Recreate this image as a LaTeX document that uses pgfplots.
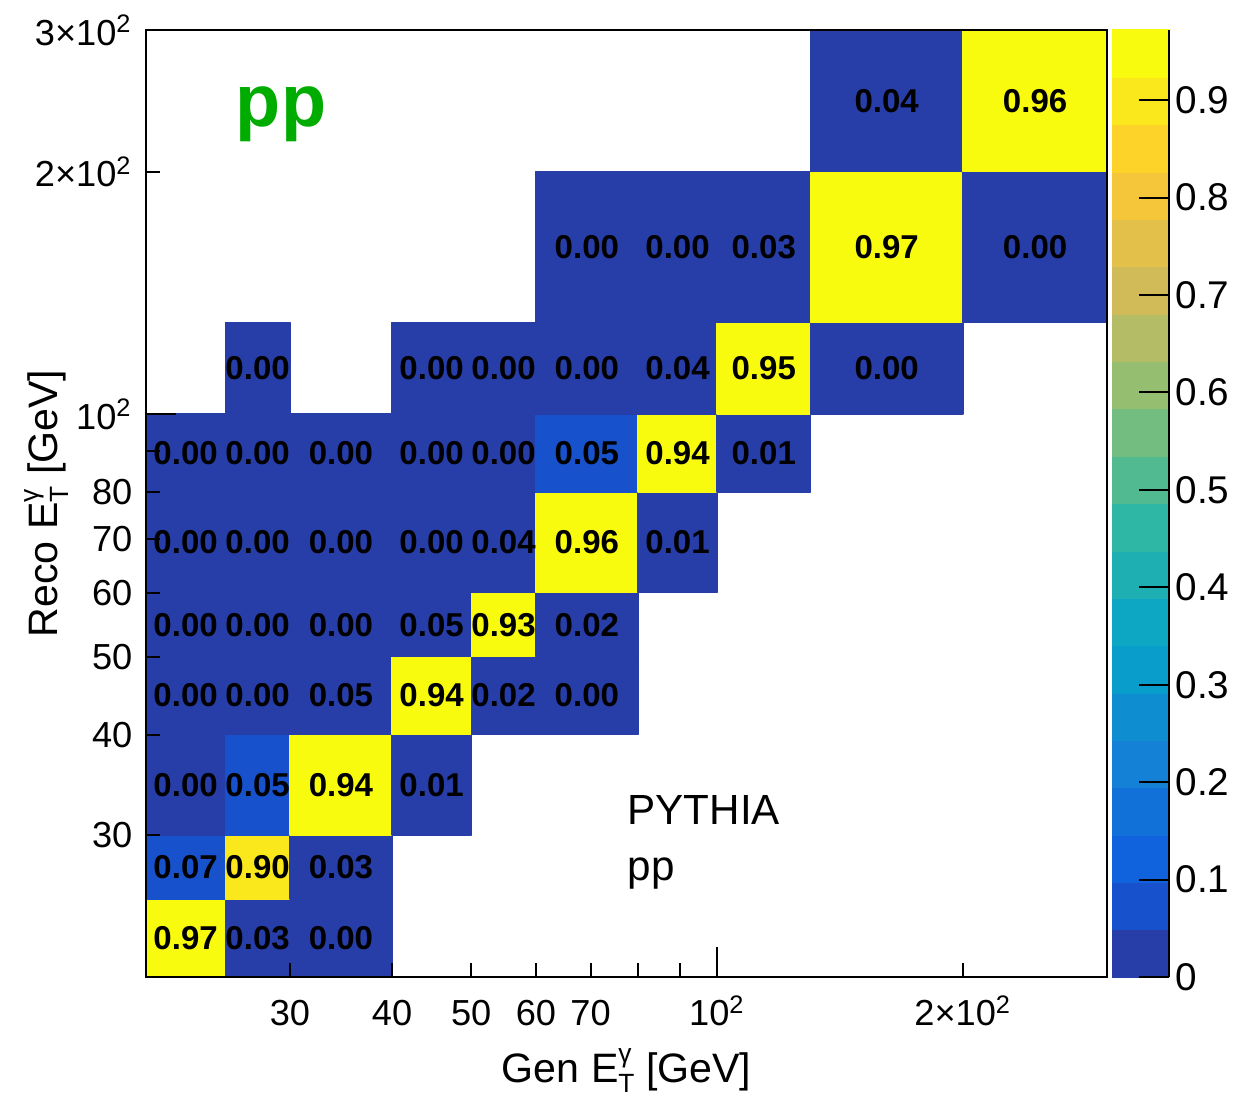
\documentclass[border=0pt]{standalone}
\usepackage{fontspec}
\setmainfont{Liberation Sans}
\usepackage{pgfplots}
\pgfplotsset{compat=1.18}
\usepackage{pgfplotstable}
\definecolor{ppgreen}{RGB}{0,172,0}
\pgfplotsset{colormap={bird20}{
rgb255=(39,61,168) rgb255=(23,81,203) rgb255=(16,99,220) rgb255=(18,113,217)
rgb255=(20,128,214) rgb255=(14,142,209) rgb255=(9,157,204) rgb255=(13,167,195)
rgb255=(30,175,179) rgb255=(46,183,164) rgb255=(82,186,145) rgb255=(116,189,128)
rgb255=(150,190,113) rgb255=(180,189,101) rgb255=(209,187,89) rgb255=(227,192,74)
rgb255=(245,198,58) rgb255=(253,211,42) rgb255=(251,232,28) rgb255=(249,251,14)}}
\newcommand{\ETg}{E\rlap{\raisebox{5.5pt}{\fontsize{7.5}{7.5}\selectfont γ}}\raisebox{-3pt}{\fontsize{7.5}{7.5}\selectfont T}}

% cells: four corners per bin, with bin content v
\pgfplotstableread{
x y v
20 20 0.97
25 20 0.97
25 25 0.97
20 25 0.97
25 20 0.03
30 20 0.03
30 25 0.03
25 25 0.03
30 20 0.00
40 20 0.00
40 25 0.00
30 25 0.00
20 25 0.07
25 25 0.07
25 30 0.07
20 30 0.07
25 25 0.90
30 25 0.90
30 30 0.90
25 30 0.90
30 25 0.03
40 25 0.03
40 30 0.03
30 30 0.03
20 30 0.00
25 30 0.00
25 40 0.00
20 40 0.00
25 30 0.05
30 30 0.05
30 40 0.05
25 40 0.05
30 30 0.94
40 30 0.94
40 40 0.94
30 40 0.94
40 30 0.01
50 30 0.01
50 40 0.01
40 40 0.01
20 40 0.00
25 40 0.00
25 50 0.00
20 50 0.00
25 40 0.00
30 40 0.00
30 50 0.00
25 50 0.00
30 40 0.046
40 40 0.046
40 50 0.046
30 50 0.046
40 40 0.94
50 40 0.94
50 50 0.94
40 50 0.94
50 40 0.02
60 40 0.02
60 50 0.02
50 50 0.02
60 40 0.00
80 40 0.00
80 50 0.00
60 50 0.00
20 50 0.00
25 50 0.00
25 60 0.00
20 60 0.00
25 50 0.00
30 50 0.00
30 60 0.00
25 60 0.00
30 50 0.00
40 50 0.00
40 60 0.00
30 60 0.00
40 50 0.046
50 50 0.046
50 60 0.046
40 60 0.046
50 50 0.93
60 50 0.93
60 60 0.93
50 60 0.93
60 50 0.02
80 50 0.02
80 60 0.02
60 60 0.02
20 60 0.00
25 60 0.00
25 80 0.00
20 80 0.00
25 60 0.00
30 60 0.00
30 80 0.00
25 80 0.00
30 60 0.00
40 60 0.00
40 80 0.00
30 80 0.00
40 60 0.00
50 60 0.00
50 80 0.00
40 80 0.00
50 60 0.04
60 60 0.04
60 80 0.04
50 80 0.04
60 60 0.96
80 60 0.96
80 80 0.96
60 80 0.96
80 60 0.01
100 60 0.01
100 80 0.01
80 80 0.01
20 80 0.00
25 80 0.00
25 100 0.00
20 100 0.00
25 80 0.00
30 80 0.00
30 100 0.00
25 100 0.00
30 80 0.00
40 80 0.00
40 100 0.00
30 100 0.00
40 80 0.00
50 80 0.00
50 100 0.00
40 100 0.00
50 80 0.00
60 80 0.00
60 100 0.00
50 100 0.00
60 80 0.05
80 80 0.05
80 100 0.05
60 100 0.05
80 80 0.94
100 80 0.94
100 100 0.94
80 100 0.94
100 80 0.01
130 80 0.01
130 100 0.01
100 100 0.01
25 100 0.00
30 100 0.00
30 130 0.00
25 130 0.00
40 100 0.00
50 100 0.00
50 130 0.00
40 130 0.00
50 100 0.00
60 100 0.00
60 130 0.00
50 130 0.00
60 100 0.00
80 100 0.00
80 130 0.00
60 130 0.00
80 100 0.04
100 100 0.04
100 130 0.04
80 130 0.04
100 100 0.95
130 100 0.95
130 130 0.95
100 130 0.95
130 100 0.00
200 100 0.00
200 130 0.00
130 130 0.00
60 130 0.00
80 130 0.00
80 200 0.00
60 200 0.00
80 130 0.00
100 130 0.00
100 200 0.00
80 200 0.00
100 130 0.03
130 130 0.03
130 200 0.03
100 200 0.03
130 130 0.97
200 130 0.97
200 200 0.97
130 200 0.97
200 130 0.00
300 130 0.00
300 200 0.00
200 200 0.00
130 200 0.04
200 200 0.04
200 300 0.04
130 300 0.04
200 200 0.96
300 200 0.96
300 300 0.96
200 300 0.96
}\cells

% labels: bin centres (log scale) and bin content
\pgfplotstableread{
x y v
22.36 22.36 0.97
27.39 22.36 0.03
34.64 22.36 0.00
22.36 27.39 0.07
27.39 27.39 0.90
34.64 27.39 0.03
22.36 34.64 0.00
27.39 34.64 0.05
34.64 34.64 0.94
44.72 34.64 0.01
22.36 44.72 0.00
27.39 44.72 0.00
34.64 44.72 0.046
44.72 44.72 0.94
54.77 44.72 0.02
69.28 44.72 0.00
22.36 54.77 0.00
27.39 54.77 0.00
34.64 54.77 0.00
44.72 54.77 0.046
54.77 54.77 0.93
69.28 54.77 0.02
22.36 69.28 0.00
27.39 69.28 0.00
34.64 69.28 0.00
44.72 69.28 0.00
54.77 69.28 0.04
69.28 69.28 0.96
89.44 69.28 0.01
22.36 89.44 0.00
27.39 89.44 0.00
34.64 89.44 0.00
44.72 89.44 0.00
54.77 89.44 0.00
69.28 89.44 0.05
89.44 89.44 0.94
114.02 89.44 0.01
27.39 114.02 0.00
44.72 114.02 0.00
54.77 114.02 0.00
69.28 114.02 0.00
89.44 114.02 0.04
114.02 114.02 0.95
161.25 114.02 0.00
69.28 161.25 0.00
89.44 161.25 0.00
114.02 161.25 0.03
161.25 161.25 0.97
244.95 161.25 0.00
161.25 244.95 0.04
244.95 244.95 0.96
}\labels

% palette bands (20 contour levels between 0 and 0.972)
\pgfplotstableread{
x y v
0 0.0000 0.0243
1 0.0000 0.0243
1 0.0486 0.0243
0 0.0486 0.0243
0 0.0486 0.0729
1 0.0486 0.0729
1 0.0972 0.0729
0 0.0972 0.0729
0 0.0972 0.1215
1 0.0972 0.1215
1 0.1458 0.1215
0 0.1458 0.1215
0 0.1458 0.1701
1 0.1458 0.1701
1 0.1944 0.1701
0 0.1944 0.1701
0 0.1944 0.2187
1 0.1944 0.2187
1 0.2430 0.2187
0 0.2430 0.2187
0 0.2430 0.2673
1 0.2430 0.2673
1 0.2916 0.2673
0 0.2916 0.2673
0 0.2916 0.3159
1 0.2916 0.3159
1 0.3402 0.3159
0 0.3402 0.3159
0 0.3402 0.3645
1 0.3402 0.3645
1 0.3888 0.3645
0 0.3888 0.3645
0 0.3888 0.4131
1 0.3888 0.4131
1 0.4374 0.4131
0 0.4374 0.4131
0 0.4374 0.4617
1 0.4374 0.4617
1 0.4860 0.4617
0 0.4860 0.4617
0 0.4860 0.5103
1 0.4860 0.5103
1 0.5346 0.5103
0 0.5346 0.5103
0 0.5346 0.5589
1 0.5346 0.5589
1 0.5832 0.5589
0 0.5832 0.5589
0 0.5832 0.6075
1 0.5832 0.6075
1 0.6318 0.6075
0 0.6318 0.6075
0 0.6318 0.6561
1 0.6318 0.6561
1 0.6804 0.6561
0 0.6804 0.6561
0 0.6804 0.7047
1 0.6804 0.7047
1 0.7290 0.7047
0 0.7290 0.7047
0 0.7290 0.7533
1 0.7290 0.7533
1 0.7776 0.7533
0 0.7776 0.7533
0 0.7776 0.8019
1 0.7776 0.8019
1 0.8262 0.8019
0 0.8262 0.8019
0 0.8262 0.8505
1 0.8262 0.8505
1 0.8748 0.8505
0 0.8748 0.8505
0 0.8748 0.8991
1 0.8748 0.8991
1 0.9234 0.8991
0 0.9234 0.8991
0 0.9234 0.9477
1 0.9234 0.9477
1 0.9720 0.9477
0 0.9720 0.9477
}\palette

\begin{document}
\begin{tikzpicture}
\path[use as bounding box] (-14.6mm,-12.0mm) rectangle (111.1mm,97.7mm);
\begin{axis}[
  at={(0,0)}, anchor=south west,
  scale only axis, width=96.1mm, height=94.7mm,
  xmode=log, ymode=log,
  xmin=20, xmax=300, ymin=20, ymax=300,
  colormap name=bird20,
  colormap access=piecewise constant,
  point meta min=0, point meta max=0.972,
  axis on top,
  axis line style={line width=0.2mm},
  tick pos=left,
  tick align=inside,
  major tick length=1.4mm,
  every tick/.style={black, line width=0.2mm},
  minor xtick={}, minor ytick={},
  xtick={30,40,50,60,70,80,90,200},
  xticklabels={30,40,50,60,70,,,2×10\textsuperscript{2}},
  extra x ticks={100}, extra x tick labels={10\textsuperscript{2}},
  extra x tick style={major tick length=3mm},
  ytick={30,40,50,60,70,80,90,200,300},
  yticklabels={30,40,50,60,70,80,,2×10\textsuperscript{2},3×10\textsuperscript{2}},
  extra y ticks={100}, extra y tick labels={10\textsuperscript{2}},
  extra y tick style={major tick length=3mm},
  xticklabel style={font=\fontsize{10.3}{10.3}\selectfont, anchor=base, inner sep=0pt, yshift=-4.9mm},
  yticklabel style={font=\fontsize{10.3}{10.3}\selectfont, anchor=east, inner sep=0pt, xshift=-1.3mm},
  xlabel={Gen \ETg{} [GeV]},
  ylabel={Reco \ETg{} [GeV]},
  xlabel style={font=\fontsize{11.7}{11.7}\selectfont, at={(axis description cs:0.5,-0.1109)}, anchor=base, inner sep=0pt},
  ylabel style={font=\fontsize{11.7}{11.7}\selectfont, at={(axis description cs:-0.0916,0.5)}, anchor=base, inner sep=0pt},
]
\addplot[patch, patch type=rectangle, shader=flat corner, point meta=\thisrow{v}] table[x=x, y=y] {\cells};
\addplot[only marks, mark=none, point meta=\thisrow{v},
  nodes near coords={\pgfmathprintnumber[fixed,fixed zerofill,precision=2,assume math mode=true]{\pgfplotspointmeta}},
  every node near coord/.append style={anchor=center, inner sep=0pt, text=black, font=\bfseries\fontsize{9.4}{9.4}\selectfont}]
  table[x=x, y=y] {\labels};
\node[anchor=base, text=ppgreen, font=\bfseries\fontsize{21}{21}\selectfont, inner sep=0pt] at (axis description cs:0.1405,0.8976) {pp};
\node[anchor=base west, font=\fontsize{12}{12}\selectfont, inner sep=0pt] at (axis description cs:0.5005,0.1605) {PYTHIA};
\node[anchor=base west, font=\fontsize{12}{12}\selectfont, inner sep=0pt] at (axis description cs:0.5005,0.1024) {pp};
\end{axis}
\begin{axis}[
  at={(96.6mm,0)}, anchor=south west,
  scale only axis, width=5.7mm, height=94.7mm,
  xmin=0, xmax=1, ymin=0, ymax=0.972,
  colormap name=bird20,
  colormap access=piecewise constant,
  point meta min=0, point meta max=0.972,
  axis on top,
  axis x line=none, axis y line*=right,
  axis line style={line width=0.2mm},
  tick align=inside,
  major tick length=3mm,
  every tick/.style={black, line width=0.2mm},
  ytick={0,0.1,0.2,0.3,0.4,0.5,0.6,0.7,0.8,0.9},
  yticklabels={0,0.1,0.2,0.3,0.4,0.5,0.6,0.7,0.8,0.9},
  minor ytick={},
  yticklabel style={font=\fontsize{11}{11}\selectfont, anchor=west, inner sep=0pt, xshift=0.6mm},
]
\addplot[patch, patch type=rectangle, shader=flat corner, point meta=\thisrow{v}] table[x=x, y=y] {\palette};
\end{axis}
\end{tikzpicture}
\end{document}
